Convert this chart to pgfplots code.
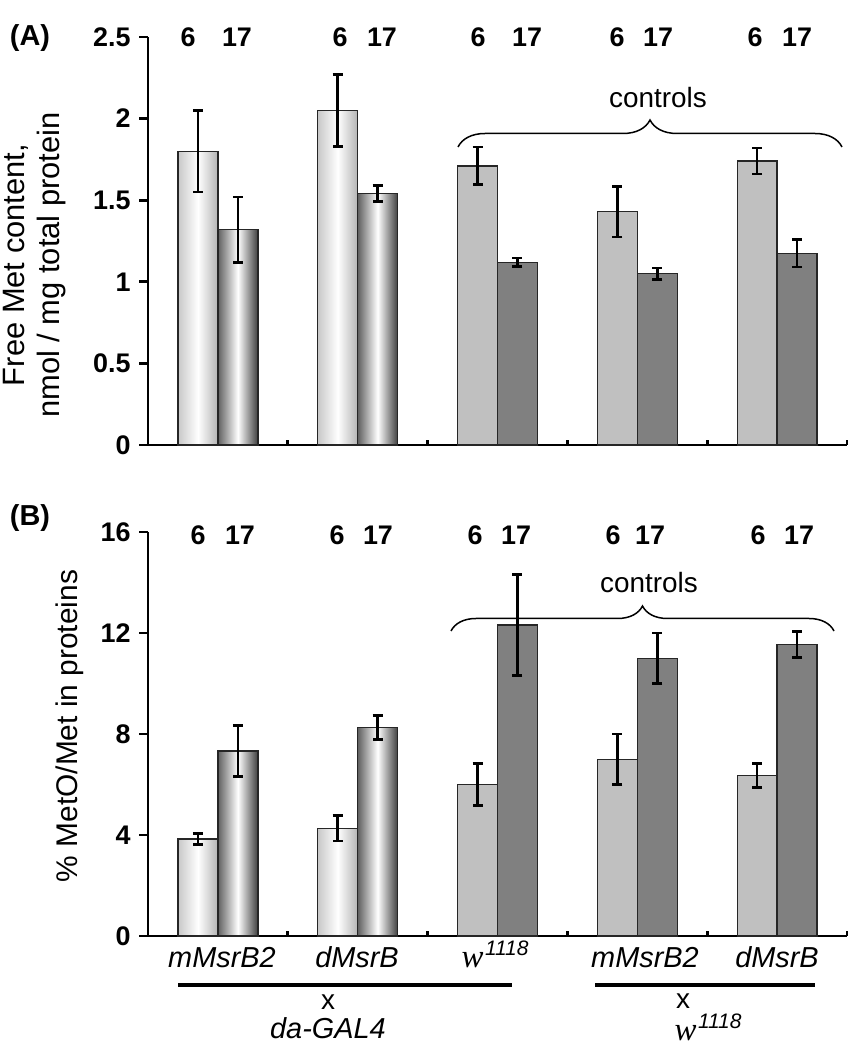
\documentclass[border=0pt]{standalone}
\usepackage{fontspec}
\setmainfont{Liberation Sans}
\newfontfamily\tmsfont{Liberation Serif}
\usepackage{pgfplots}
\pgfplotsset{compat=1.18}
\usetikzlibrary{decorations.pathreplacing}
\definecolor{ctlA}{HTML}{C0C0C0}
\definecolor{ctlB}{HTML}{808080}
\definecolor{shA}{HTML}{C8C8C8}
\definecolor{shAr}{HTML}{B4B4B4}
\definecolor{shB}{HTML}{606060}
\definecolor{shBr}{HTML}{404040}
\newcommand{\wsup}{{\tmsfont\itshape\fontsize{33}{33}\selectfont w}\kern1.5bp\raisebox{12bp}{\fontsize{21}{21}\selectfont\itshape 1118}}
\pgfplotsset{
  panel/.style={
    width=699bp, scale only axis,
    xmin=0, xmax=5,
    axis x line=bottom, axis y line=left,
    axis line style={-, line width=2.7bp, black},
    every tick/.style={black, line width=2.7bp},
    ytick align=outside, major tick length=9bp,
    xtick=\empty,
    extra x ticks={1,2,3,4,5}, extra x tick labels={},
    extra x tick style={xtick align=inside, major tick length=5bp},
    yticklabel style={font=\bfseries\fontsize{27}{30}\selectfont, xshift=-5bp},
    /pgf/number format/assume math mode=true,
    clip=false,
  },
  sbar/.style={ybar, bar width=0.2857, bar shift=0pt, draw=black!85, line width=1.3bp},
  ebar/.style={draw=none, mark=none, forget plot,
    error bars/.cd, y dir=both, y explicit,
    error bar style={draw=black, solid, line width=2.7bp},
    error mark options={draw=black, solid, rotate=90, mark size=5bp, line width=2.7bp}},
  lightsh/.style={left color=shA, right color=shAr, middle color=white},
  darksh/.style={left color=shB, right color=shBr, middle color=white},
}
\begin{document}
\begin{tikzpicture}[x=1bp,y=1bp]
\useasboundingbox (0,0) rectangle (860,1050);
% ---------------- Panel A ----------------
\begin{axis}[panel, at={(148bp,605bp)}, anchor=origin, height=408bp,
  ymin=0, ymax=2.5, ytick={0,0.5,1,1.5,2,2.5},
  yticklabels={0,0.5,1,1.5,2,2.5}]
\addplot[sbar, lightsh] coordinates {(0.3571,1.80)};
\addplot[sbar, darksh] coordinates {(0.6429,1.32)};
\addplot[sbar, lightsh] coordinates {(1.3571,2.05)};
\addplot[sbar, darksh] coordinates {(1.6429,1.54)};
\addplot[sbar, fill=ctlA] coordinates {(2.3571,1.71) (3.3571,1.43) (4.3571,1.74)};
\addplot[sbar, fill=ctlB] coordinates {(2.6429,1.12) (3.6429,1.05) (4.6429,1.175)};
\addplot[ebar] coordinates {
 (0.3571,1.80) +- (0,0.25)
 (0.6429,1.32) +- (0,0.20)
 (1.3571,2.05) +- (0,0.22)
 (1.6429,1.54) +- (0,0.05)
 (2.3571,1.71) +- (0,0.115)
 (2.6429,1.12) +- (0,0.025)
 (3.3571,1.43) +- (0,0.155)
 (3.6429,1.05) +- (0,0.035)
 (4.3571,1.74) +- (0,0.08)
 (4.6429,1.175) +- (0,0.085)
};
\end{axis}
% ---------------- Panel B ----------------
\begin{axis}[panel, at={(148bp,114bp)}, anchor=origin, height=404bp,
  ymin=0, ymax=16, ytick={0,4,8,12,16}, yticklabels={0,4,8,12,16}]
\addplot[sbar, lightsh] coordinates {(0.3571,3.84)};
\addplot[sbar, darksh] coordinates {(0.6429,7.33)};
\addplot[sbar, lightsh] coordinates {(1.3571,4.26)};
\addplot[sbar, darksh] coordinates {(1.6429,8.26)};
\addplot[sbar, fill=ctlA] coordinates {(2.3571,6.0) (3.3571,7.0) (4.3571,6.36)};
\addplot[sbar, fill=ctlB] coordinates {(2.6429,12.32) (3.6429,11.0) (4.6429,11.55)};
\addplot[ebar] coordinates {
 (0.3571,3.84) +- (0,0.23)
 (0.6429,7.33) +- (0,1.0)
 (1.3571,4.26) +- (0,0.5)
 (1.6429,8.26) +- (0,0.47)
 (2.3571,6.0) +- (0,0.82)
 (2.6429,12.32) +- (0,2.0)
 (3.3571,7.0) +- (0,1.0)
 (3.6429,11.0) +- (0,1.0)
 (4.3571,6.36) +- (0,0.48)
 (4.6429,11.55) +- (0,0.52)
};
\end{axis}
% ---------------- group day labels (6 / 17) ----------------
\begin{scope}[every node/.style={font=\bfseries\fontsize{27}{30}\selectfont}]
\node at (188,1013) {6};  \node at (237,1013) {17};
\node at (340,1013) {6};  \node at (382,1013) {17};
\node at (478,1013) {6};  \node at (527,1013) {17};
\node at (617,1013) {6};  \node at (658,1013) {17};
\node at (755,1013) {6};  \node at (797,1013) {17};
\node at (198,515) {6};   \node at (240,515) {17};
\node at (337,515) {6};   \node at (378,515) {17};
\node at (475,515) {6};   \node at (516,515) {17};
\node at (613,515) {6};   \node at (650,515) {17};
\node at (758,515) {6};   \node at (799,515) {17};
\end{scope}
% ---------------- annotations ----------------
\node[font=\bfseries\fontsize{29}{30}\selectfont] at (30,1012) {(A)};
\node[font=\bfseries\fontsize{29}{30}\selectfont] at (30,532) {(B)};
\node[rotate=90, align=center, font=\fontsize{31}{35}\selectfont] at (35,785) {Free Met content,\\ nmol / mg total protein};
\node[rotate=90, font=\fontsize{30}{32}\selectfont] at (70,324) {\% MetO/Met in proteins};
\node[font=\fontsize{28}{30}\selectfont] at (658,952) {controls};
\node[font=\fontsize{28}{30}\selectfont] at (649,467) {controls};
\draw[decorate, decoration={brace, amplitude=27bp}, line width=1.5bp] (458,903) -- (842,903);
\draw[decorate, decoration={brace, amplitude=25bp}, line width=1.5bp] (451,419) -- (834,419);
% bottom category labels
\begin{scope}[every node/.style={anchor=base, inner sep=0pt, font=\itshape\fontsize{29}{30}\selectfont}]
\node at (222,82) {mMsrB2};
\node at (357,82) {dMsrB};
\node at (495,82) {\wsup};
\node at (645,82) {mMsrB2};
\node at (777,82) {dMsrB};
\node at (328,11) {da-GAL4};
\node at (708,9) {\wsup};
\end{scope}
\draw[line width=3.5bp] (178,65) -- (512,65);
\draw[line width=3.5bp] (595,65) -- (815,65);
\node[inner sep=0pt, font=\fontsize{28}{30}\selectfont] at (328,48) {x};
\node[inner sep=0pt, font=\fontsize{28}{30}\selectfont] at (683,49) {x};
\end{tikzpicture}
\end{document}
